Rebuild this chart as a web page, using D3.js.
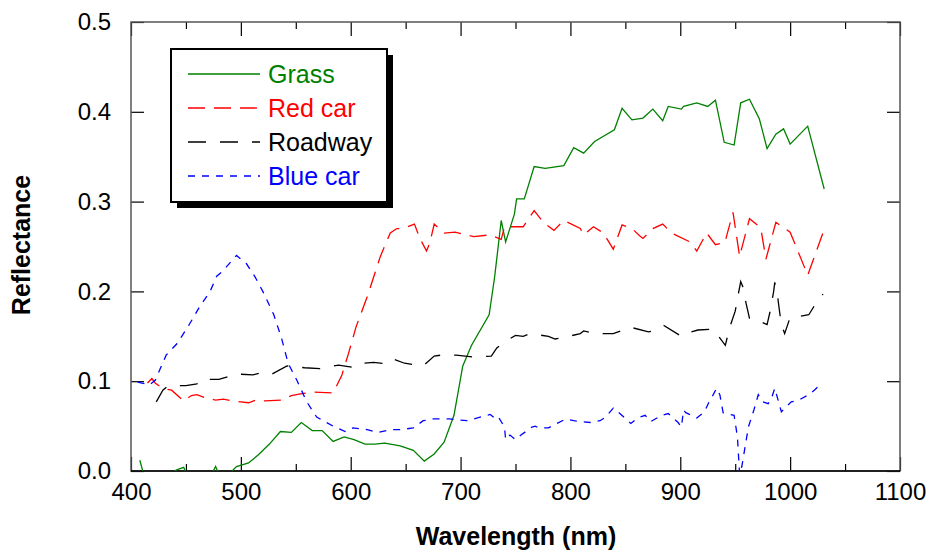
<!DOCTYPE html>
<html>
<head>
<meta charset="utf-8">
<script src="https://cdn.jsdelivr.net/npm/d3@7"></script>
<style>
  body { margin: 0; background: #fff; }
  svg text { font-family: "Liberation Sans", Arial, sans-serif; }
</style>
</head>
<body>
<div id="chart"></div>
<script>
// reflectance spectra, [wavelength nm, reflectance]
var grass = [[408,0.012],[413,-0.01],[425,-0.015],[437,-0.003],[441,0.001],[448,0.004],[452,-0.008],[465,-0.01],[474,-0.002],[477,0.005],[481,-0.006],[488,-0.003],[492,0.0],[496,0.005],[507,0.009],[516,0.018],[526,0.030],[536,0.044],[546,0.043],[555,0.054],[565,0.045],[574,0.045],[584,0.033],[594,0.038],[603,0.035],[613,0.030],[622,0.030],[631,0.031],[645,0.028],[657,0.023],[667,0.011],[676,0.019],[685,0.032],[694,0.062],[702,0.117],[710,0.140],[726,0.174],[731,0.216],[737,0.279],[741,0.255],[749,0.286],[751,0.303],[758,0.303],[767,0.339],[777,0.337],[794,0.340],[803,0.360],[812,0.354],[822,0.367],[840,0.380],[847,0.404],[856,0.391],[866,0.393],[875,0.403],[884,0.390],[889,0.406],[901,0.403],[903,0.406],[915,0.410],[925,0.406],[932,0.413],[940,0.366],[949,0.363],[955,0.410],[963,0.414],[972,0.392],[979,0.359],[987,0.375],[994,0.381],[1000,0.364],[1016,0.384],[1031,0.314]];

var redCar = [[415,0.098],[419,0.103],[422,0.098],[429,0.092],[437,0.090],[448,0.078],[455,0.084],[460,0.085],[469,0.081],[477,0.079],[484,0.080],[493,0.078],[507,0.076],[514,0.079],[522,0.078],[537,0.079],[546,0.084],[554,0.086],[566,0.088],[584,0.087],[592,0.107],[598,0.131],[605,0.161],[615,0.194],[627,0.239],[636,0.265],[642,0.270],[648,0.270],[658,0.275],[663,0.259],[669,0.245],[672,0.254],[676,0.275],[685,0.265],[695,0.266],[712,0.261],[727,0.263],[737,0.258],[740,0.272],[748,0.272],[757,0.272],[762,0.281],[767,0.290],[776,0.276],[785,0.268],[794,0.279],[809,0.270],[812,0.263],[821,0.272],[830,0.265],[839,0.247],[847,0.274],[856,0.270],[863,0.262],[866,0.259],[875,0.270],[884,0.275],[892,0.265],[909,0.255],[915,0.245],[924,0.265],[932,0.252],[941,0.255],[942,0.261],[948,0.288],[954,0.239],[963,0.281],[972,0.272],[974,0.265],[978,0.236],[987,0.277],[1000,0.266],[1016,0.218],[1031,0.269]];

var roadway = [[423,0.077],[429,0.090],[434,0.095],[450,0.095],[460,0.097],[464,0.102],[480,0.102],[496,0.108],[511,0.107],[517,0.109],[527,0.107],[542,0.117],[558,0.115],[572,0.114],[589,0.118],[604,0.115],[612,0.120],[621,0.121],[635,0.119],[640,0.124],[649,0.120],[666,0.117],[676,0.128],[682,0.129],[696,0.129],[712,0.127],[728,0.128],[733,0.137],[739,0.143],[750,0.151],[757,0.150],[763,0.153],[780,0.150],[786,0.147],[795,0.149],[809,0.153],[812,0.156],[822,0.153],[839,0.153],[855,0.160],[871,0.155],[875,0.156],[885,0.162],[901,0.150],[904,0.153],[916,0.157],[930,0.158],[941,0.140],[945,0.160],[950,0.178],[953,0.198],[955,0.211],[957,0.205],[960,0.186],[963,0.170],[966,0.170],[979,0.163],[982,0.179],[985,0.200],[986,0.210],[988,0.200],[990,0.181],[992,0.163],[995,0.153],[1000,0.171],[1002,0.171],[1017,0.174],[1026,0.192],[1030,0.197]];

var blueCar = [[406,0.099],[417,0.096],[422,0.101],[432,0.129],[442,0.142],[452,0.161],[463,0.184],[472,0.200],[478,0.217],[483,0.222],[496,0.240],[505,0.231],[513,0.216],[520,0.200],[530,0.174],[537,0.148],[543,0.120],[551,0.101],[560,0.077],[569,0.060],[584,0.050],[595,0.044],[602,0.048],[615,0.046],[625,0.043],[636,0.046],[645,0.046],[657,0.048],[666,0.056],[675,0.058],[690,0.058],[706,0.056],[727,0.063],[733,0.057],[735,0.059],[740,0.049],[741,0.035],[745,0.040],[750,0.035],[755,0.040],[765,0.049],[768,0.050],[771,0.048],[780,0.048],[786,0.052],[796,0.058],[803,0.056],[818,0.054],[827,0.056],[832,0.060],[839,0.070],[846,0.063],[855,0.053],[861,0.059],[868,0.062],[873,0.055],[883,0.062],[889,0.064],[898,0.054],[901,0.049],[903,0.068],[905,0.065],[915,0.059],[922,0.066],[927,0.079],[930,0.085],[933,0.092],[936,0.085],[939,0.065],[945,0.063],[949,0.062],[952,0.038],[954,-0.004],[956,0.005],[959,0.027],[962,0.049],[967,0.068],[971,0.085],[975,0.077],[980,0.075],[983,0.081],[986,0.092],[992,0.066],[1001,0.077],[1008,0.079],[1017,0.085],[1023,0.091],[1027,0.096]];

var seriesNames = ["Grass", "Red car", "Roadway", "Blue car"];
var seriesData = [grass, redCar, roadway, blueCar];
var seriesColors = ["#008000", "#ff0000", "#000000", "#0000ff"];
var seriesDash = [null, "17,9", "18,14", "7,7"];

var xTicks = [400, 500, 600, 700, 800, 900, 1000, 1100];
var xMinorTicks = [450, 550, 650, 750, 850, 950, 1050];
var yTicks = [0.0, 0.1, 0.2, 0.3, 0.4, 0.5];

var margin = { top: 22, right: 29, bottom: 79, left: 131 },
  width = 929 - margin.left - margin.right,
  height = 550 - margin.top - margin.bottom;

var svg = d3.select("#chart").append("svg")
  .attr("width", 929).attr("height", 550);

var g = svg.append("g")
  .attr("transform", "translate(" + margin.left + "," + margin.top + ")");

var x = d3.scaleLinear().domain([400, 1100]).range([0, width]);
var y = d3.scaleLinear().domain([0, 0.5]).range([height, 0]);

g.append("clipPath").attr("id", "plotclip")
  .append("rect").attr("width", width).attr("height", height);

// axes, ticks pointing inwards
function styleAxis(sel) {
  sel.select(".domain").remove();
  sel.selectAll(".tick line").attr("stroke", "#000").attr("stroke-width", 1.2);
  sel.selectAll("text").attr("fill", "#000").style("font-size", "24px");
}

g.append("g").attr("transform", "translate(0," + height + ")")
  .call(d3.axisBottom(x).tickValues(xTicks).tickSize(-14).tickPadding(12).tickFormat(d3.format("d")))
  .call(styleAxis);
g.append("g").attr("transform", "translate(0," + height + ")")
  .call(d3.axisBottom(x).tickValues(xMinorTicks).tickSize(-7).tickFormat(""))
  .call(styleAxis);
g.append("g")
  .call(d3.axisTop(x).tickValues(xTicks).tickSize(-14).tickFormat(""))
  .call(styleAxis);
g.append("g")
  .call(d3.axisTop(x).tickValues(xMinorTicks).tickSize(-7).tickFormat(""))
  .call(styleAxis);
g.append("g")
  .call(d3.axisLeft(y).tickValues(yTicks).tickSize(-13).tickPadding(20).tickFormat(d3.format(".1f")))
  .call(styleAxis);
g.append("g").attr("transform", "translate(" + width + ",0)")
  .call(d3.axisRight(y).tickValues(yTicks).tickSize(-13).tickFormat(""))
  .call(styleAxis);

// frame
g.append("rect")
  .attr("width", width).attr("height", height)
  .attr("fill", "none").attr("stroke", "#555").attr("stroke-width", 1.5);
g.append("line").attr("x1", 0).attr("x2", width).attr("y1", height).attr("y2", height)
  .attr("stroke", "#000").attr("stroke-width", 1.5);

var line = d3.line().x(function(d) { return x(d[0]); }).y(function(d) { return y(d[1]); });

var lines = g.append("g").attr("clip-path", "url(#plotclip)");
seriesData.forEach(function(data, i) {
  lines.append("path")
    .datum(data)
    .attr("d", line)
    .attr("fill", "none")
    .attr("stroke", seriesColors[i])
    .attr("stroke-width", 1.3)
    .attr("stroke-dasharray", seriesDash[i]);
});

// axis titles
svg.append("text")
  .attr("x", 516).attr("y", 545)
  .attr("text-anchor", "middle")
  .style("font-size", "25px").style("font-weight", "bold")
  .text("Wavelength (nm)");
svg.append("text")
  .attr("transform", "translate(30,245) rotate(-90)")
  .attr("text-anchor", "middle")
  .style("font-size", "25px").style("font-weight", "bold")
  .text("Reflectance");

// legend with drop shadow
var legend = svg.append("g").attr("transform", "translate(171,49)");
legend.append("rect").attr("x", 6).attr("y", 6).attr("width", 216).attr("height", 153).attr("fill", "#000");
legend.append("rect").attr("width", 216).attr("height", 153)
  .attr("fill", "#fff").attr("stroke", "#000").attr("stroke-width", 2);

seriesNames.forEach(function(name, i) {
  var cy = 25 + i * 34;
  legend.append("line")
    .attr("x1", 17).attr("x2", 89).attr("y1", cy).attr("y2", cy)
    .attr("stroke", seriesColors[i]).attr("stroke-width", 1.3)
    .attr("stroke-dasharray", seriesDash[i]);
  legend.append("text")
    .attr("x", 97).attr("y", cy + 9)
    .attr("fill", seriesColors[i])
    .style("font-size", "25px")
    .text(name);
});
</script>
</body>
</html>
